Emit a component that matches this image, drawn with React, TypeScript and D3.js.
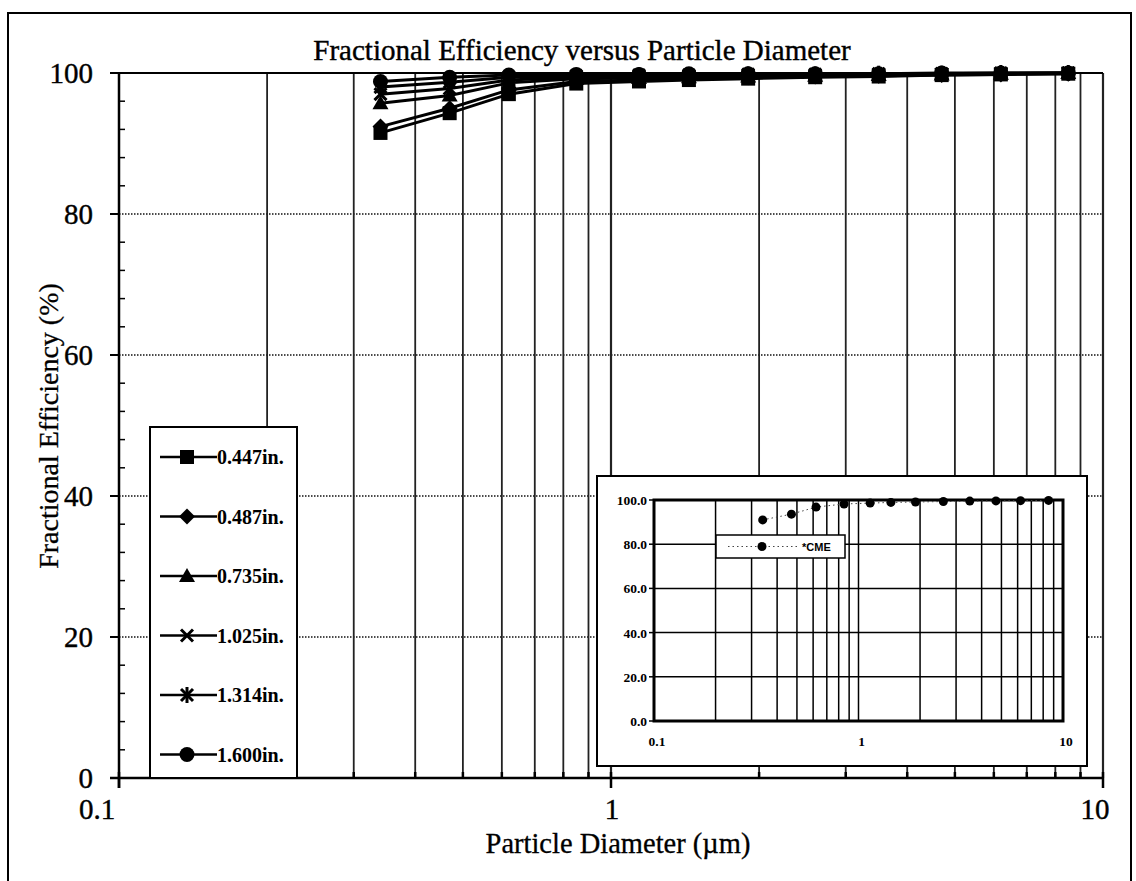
import React from 'react';
import * as d3 from 'd3';

// particle diameters (um) of the measured channels
const diameters = [0.34, 0.47, 0.62, 0.85, 1.14, 1.44, 1.9, 2.6, 3.5, 4.7, 6.2, 8.5];

// fractional efficiency (%) per slot width
const eff0447 = [91.5, 94.3, 97.0, 98.5, 98.8, 99.0, 99.2, 99.4, 99.5, 99.7, 99.8, 99.9];
const eff0487 = [92.4, 95.0, 97.6, 98.8, 99.0, 99.2, 99.4, 99.5, 99.6, 99.7, 99.8, 99.9];
const eff0735 = [95.7, 96.8, 98.6, 99.2, 99.3, 99.4, 99.5, 99.6, 99.7, 99.8, 99.9, 100];
const eff1025 = [97.0, 97.8, 99.0, 99.4, 99.5, 99.6, 99.7, 99.7, 99.8, 99.9, 99.9, 100];
const eff1314 = [98.0, 98.7, 99.4, 99.6, 99.7, 99.7, 99.8, 99.8, 99.9, 99.9, 100, 100];
const eff1600 = [98.8, 99.4, 99.7, 99.8, 99.8, 99.9, 99.9, 99.9, 99.9, 100, 100, 100];

const seriesLabels = ['0.447in.', '0.487in.', '0.735in.', '1.025in.', '1.314in.', '1.600in.'];
const seriesShapes = ['square', 'diamond', 'triangle', 'cross', 'star', 'circle'];
const seriesValues = [eff0447, eff0487, eff0735, eff1025, eff1314, eff1600];

// inset: CME reference curve
const cmeEff = [91.0, 93.6, 96.8, 98.2, 98.6, 98.9, 99.1, 99.3, 99.5, 99.6, 99.7, 99.8];

const yTicks = [0, 20, 40, 60, 80, 100];
const xMajor = [0.1, 1, 10];
const xMinor = [0.2, 0.3, 0.4, 0.5, 0.6, 0.7, 0.8, 0.9, 2, 3, 4, 5, 6, 7, 8, 9];

const serif = '"Liberation Serif", "Times New Roman", serif';
const sans = '"Liberation Sans", Arial, sans-serif';

const Marker = ({ shape, x, y }: { shape: string; x: number; y: number }) => {
  const s = 7;
  switch (shape) {
    case 'square':
      return <rect x={x - s} y={y - s} width={2 * s} height={2 * s} fill="#000" />;
    case 'diamond':
      return <polygon points={`${x},${y - 8} ${x + 8},${y} ${x},${y + 8} ${x - 8},${y}`} fill="#000" />;
    case 'triangle':
      return <polygon points={`${x},${y - 8} ${x + 8},${y + 6} ${x - 8},${y + 6}`} fill="#000" />;
    case 'cross':
      return (
        <g stroke="#000" strokeWidth={3}>
          <line x1={x - 6} y1={y - 6} x2={x + 6} y2={y + 6} />
          <line x1={x - 6} y1={y + 6} x2={x + 6} y2={y - 6} />
        </g>
      );
    case 'star':
      return (
        <g stroke="#000" strokeWidth={3}>
          <line x1={x - 6} y1={y - 6} x2={x + 6} y2={y + 6} />
          <line x1={x - 6} y1={y + 6} x2={x + 6} y2={y - 6} />
          <line x1={x} y1={y - 8} x2={x} y2={y + 8} />
        </g>
      );
    default:
      return <circle cx={x} cy={y} r={7.5} fill="#000" />;
  }
};

export default function App() {
  const width = 1136;
  const height = 881;

  // main plot
  const x = d3.scaleLog().domain([0.1, 10]).range([119, 1103]);
  const y = d3.scaleLinear().domain([0, 100]).range([778, 73]);

  // inset plot
  const ix = d3.scaleLog().domain([0.1, 10]).range([654, 1063]);
  const iy = d3.scaleLinear().domain([0, 100]).range([721, 500]);

  const line = d3.line<number>()
    .x((d, i) => x(diameters[i]))
    .y(d => y(d));

  const insetLine = d3.line<number>()
    .x((d, i) => ix(diameters[i]))
    .y(d => iy(d));

  const yMinor = d3.range(0, 100, 4).filter(v => v % 20 !== 0);

  const legendX = 150;
  const legendTop = 427;
  const legendStep = 59.5;

  return (
    <svg width={width} height={height} style={{ position: 'absolute', left: 0, top: 0, background: '#fff' }}>
      <rect x={0} y={0} width={width} height={height} fill="#fff" />
      {/* outer frame */}
      <rect x={8} y={13} width={1123} height={900} fill="none" stroke="#000" strokeWidth={2} />

      {/* title */}
      <text x={582} y={60} textAnchor="middle" fontFamily={serif} fontSize={29} stroke="#000" strokeWidth={0.4} fill="#000">
        Fractional Efficiency versus Particle Diameter
      </text>

      {/* horizontal grid */}
      {yTicks.filter(v => v > 0 && v < 100).map(v => (
        <line key={'hg' + v} x1={x(0.1)} x2={x(10)} y1={y(v)} y2={y(v)}
          stroke="#111" strokeWidth={1.5} strokeDasharray="1.5 1.5" />
      ))}
      {/* vertical grid */}
      {xMinor.concat([1, 10]).map(v => (
        <line key={'vg' + v} x1={x(v)} x2={x(v)} y1={y(100)} y2={y(0)}
          stroke="#222" strokeWidth={v === 1 || v === 10 ? 2.2 : 1.8} />
      ))}
      <line x1={x(0.1)} x2={x(10)} y1={y(100)} y2={y(100)} stroke="#000" strokeWidth={2} />

      {/* y axis */}
      <line x1={x(0.1)} x2={x(0.1)} y1={y(100)} y2={y(0) + 10} stroke="#000" strokeWidth={2.5} />
      {yTicks.map(v => (
        <g key={'yt' + v}>
          <line x1={x(0.1) - 9} x2={x(0.1)} y1={y(v)} y2={y(v)} stroke="#000" strokeWidth={2} />
          <text x={x(0.1) - 26} y={y(v) + 10} textAnchor="end" fontFamily={serif} fontSize={29}
            stroke="#000" strokeWidth={0.4} fill="#000">{v}</text>
        </g>
      ))}
      {yMinor.map(v => (
        <line key={'ym' + v} x1={x(0.1)} x2={x(0.1) + 6} y1={y(v)} y2={y(v)} stroke="#000" strokeWidth={1.5} />
      ))}

      {/* x axis */}
      <line x1={x(0.1) - 9} x2={x(10)} y1={y(0)} y2={y(0)} stroke="#000" strokeWidth={2.5} />
      {xMajor.map(v => (
        <line key={'xt' + v} x1={x(v)} x2={x(v)} y1={y(0) - 6} y2={y(0) + 10} stroke="#000" strokeWidth={2.5} />
      ))}
      {xMinor.map(v => (
        <line key={'xm' + v} x1={x(v)} x2={x(v)} y1={y(0) - 6} y2={y(0)} stroke="#000" strokeWidth={2.5} />
      ))}
      {xMajor.map((v, i) => (
        <text key={'xl' + v} x={x(v) + [-22, 1, -8][i]} y={y(0) + 41} textAnchor="middle"
          fontFamily={serif} fontSize={29} stroke="#000" strokeWidth={0.4} fill="#000">{v}</text>
      ))}

      {/* axis titles */}
      <text x={618} y={853} textAnchor="middle" fontFamily={serif} fontSize={28.5} stroke="#000" strokeWidth={0.3} fill="#000">
        Particle Diameter (µm)
      </text>
      <text transform="translate(58,426) rotate(-90)" textAnchor="middle" fontFamily={serif} fontSize={28}
        stroke="#000" strokeWidth={0.3} fill="#000">
        Fractional Efficiency (%)
      </text>

      {/* series */}
      {seriesValues.map((vals, si) => (
        <g key={'s' + si}>
          <path d={line(vals) || ''} fill="none" stroke="#000" strokeWidth={3} />
          {vals.map((v, i) => (
            <Marker key={i} shape={seriesShapes[si]} x={x(diameters[i])} y={y(v)} />
          ))}
        </g>
      ))}

      {/* legend */}
      <rect x={legendX} y={legendTop} width={147} height={y(0) - legendTop} fill="#fff" stroke="#000" strokeWidth={2} />
      {seriesLabels.map((lab, i) => {
        const cy = legendTop + 30 + i * legendStep;
        return (
          <g key={'lg' + i}>
            <line x1={legendX + 10} x2={legendX + 67} y1={cy} y2={cy} stroke="#000" strokeWidth={2.5} />
            <Marker shape={seriesShapes[i]} x={legendX + 37} y={cy} />
            <text x={legendX + 67} y={cy + 7} fontFamily={serif} fontWeight="bold" fontSize={20} fill="#000">{lab}</text>
          </g>
        );
      })}

      {/* inset chart */}
      <rect x={597} y={476} width={490} height={290} fill="#fff" stroke="#000" strokeWidth={2} />
      {[20, 40, 60, 80].map(v => (
        <line key={'ihg' + v} x1={ix(0.1)} x2={ix(10)} y1={iy(v)} y2={iy(v)} stroke="#000" strokeWidth={1.5} />
      ))}
      {xMinor.concat([1]).map(v => (
        <line key={'ivg' + v} x1={ix(v)} x2={ix(v)} y1={iy(100)} y2={iy(0)} stroke="#000" strokeWidth={1.5} />
      ))}
      <rect x={ix(0.1)} y={iy(100)} width={ix(10) - ix(0.1)} height={iy(0) - iy(100)} fill="none" stroke="#000" strokeWidth={3} />
      {yTicks.map(v => (
        <g key={'iyt' + v}>
          <line x1={ix(0.1) - 5} x2={ix(0.1)} y1={iy(v)} y2={iy(v)} stroke="#000" strokeWidth={1.5} />
          <text x={ix(0.1) - 7} y={iy(v) + 5} textAnchor="end" fontFamily={serif} fontWeight="bold" fontSize={13.5} fill="#000">
            {v.toFixed(1)}
          </text>
        </g>
      ))}
      {xMajor.map(v => (
        <text key={'ixl' + v} x={ix(v) + 3} y={iy(0) + 25} textAnchor="middle" fontFamily={serif} fontWeight="bold" fontSize={13.5} fill="#000">{v}</text>
      ))}
      <path d={insetLine(cmeEff) || ''} fill="none" stroke="#444" strokeWidth={1} strokeDasharray="1.5 3" />
      {cmeEff.map((v, i) => (
        <circle key={'cme' + i} cx={ix(diameters[i])} cy={iy(v)} r={4.5} fill="#000" />
      ))}
      {/* inset legend */}
      <rect x={716} y={535} width={129} height={23} fill="#fff" stroke="#000" strokeWidth={1.5} />
      <line x1={728} x2={800} y1={546.5} y2={546.5} stroke="#444" strokeWidth={1} strokeDasharray="1.5 3" />
      <circle cx={762} cy={546.5} r={4.5} fill="#000" />
      <text x={802} y={551} fontFamily={sans} fontWeight="bold" fontSize={11} fill="#000">*CME</text>
    </svg>
  );
}
